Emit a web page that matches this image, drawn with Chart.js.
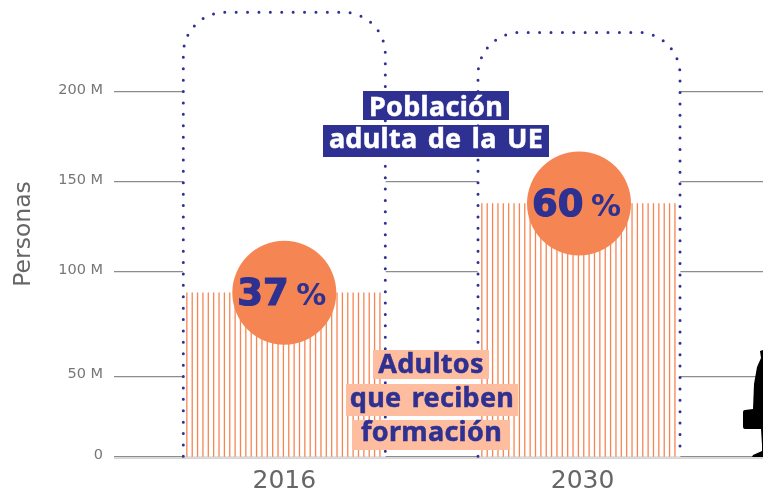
<!DOCTYPE html>
<html lang="es">
<head>
    <meta charset="UTF-8">
    <title>Adultos que reciben formación</title>
    <script src="https://cdnjs.cloudflare.com/ajax/libs/Chart.js/4.4.0/chart.umd.min.js"></script>
    <style>
        body { margin: 0; background: #fff; }
        canvas { display: block; }
    </style>
</head>
<body>
    <canvas id="chart" width="763" height="491"></canvas>

    <script>
        // Values (millions of people)
        const years = [2016, 2030];
        const adultPopulation = [243, 232];
        const adultsInTraining = [90, 138];
        const trainingShare = [37, 60];
        const tickValues = [0, 50, 100, 150, 200];
        // The source axis is not evenly spaced, this is where each tick really sits
        const tickStretch = [0, 44.1, 101.1, 150.3, 199.5];
        // The 2030 label sits slightly right of its bar in the source
        const yearTicks = [2016, 2030.17];

        const BLUE = '#2e3191';
        const ORANGE = '#f58654';
        const PEACH = '#fdbd9e';
        const GREY = '#666';

        class StretchedScale extends Chart.LinearScale {
            static id = 'stretched';
            static defaults = Chart.LinearScale.defaults;

            getPixelForValue(value) {
                for (let i = 1; i < tickValues.length; i++) {
                    if (value <= tickValues[i]) {
                        const t = (value - tickValues[i - 1]) / (tickValues[i] - tickValues[i - 1]);
                        value = tickStretch[i - 1] + t * (tickStretch[i] - tickStretch[i - 1]);
                        break;
                    }
                }
                return super.getPixelForValue(value);
            }
        }
        Chart.register(StretchedScale);

        // Vertical hatching for the orange bars, 11 lines per 59px
        function hatchPattern() {
            const c = document.createElement('canvas');
            c.width = 59;
            c.height = 4;
            const ctx = c.getContext('2d');
            ctx.fillStyle = ORANGE;
            for (let i = 0; i < 11; i++) {
                ctx.fillRect(4.34 + i * 59 / 11 - 0.5, 0, 1.3, 4);
            }
            ctx.fillRect(4.34 - 59 / 11 - 0.5, 0, 1.3, 4);
            return ctx.createPattern(c, 'repeat');
        }

        function toPoints(values) {
            return values.map((v, i) => ({ x: years[i], y: v }));
        }

        // Dotted outline around the white population bars
        const dottedOutline = {
            id: 'dottedOutline',
            afterDatasetsDraw(chart) {
                const ctx = chart.ctx;
                ctx.save();
                // pale floor line under everything
                ctx.fillStyle = '#d6d6d6';
                ctx.fillRect(chart.chartArea.left, chart.chartArea.bottom + 0.5, chart.chartArea.width, 1.5);
                ctx.strokeStyle = BLUE;
                ctx.lineWidth = 3;
                ctx.lineCap = 'round';
                ctx.setLineDash([0, 11.4]);
                chart.getDatasetMeta(2).data.forEach(bar => {
                    const left = bar.x - bar.width / 2;
                    const right = bar.x + bar.width / 2;
                    ctx.beginPath();
                    ctx.moveTo(left, bar.base);
                    ctx.arcTo(left, bar.y, right, bar.y, 42);
                    ctx.arcTo(right, bar.y, right, bar.base, 42);
                    ctx.lineTo(right, bar.base);
                    ctx.stroke();
                });
                ctx.restore();
            }
        };

        // Percentages in the circles, axis title and the boxed captions
        const annotations = {
            id: 'annotations',
            afterDraw(chart) {
                const ctx = chart.ctx;
                ctx.save();
                ctx.textBaseline = 'alphabetic';
                chart.getDatasetMeta(0).data.forEach((pt, i) => {
                    ctx.fillStyle = BLUE;
                    ctx.strokeStyle = BLUE;
                    ctx.lineWidth = 1.2;
                    ctx.textAlign = 'right';
                    ctx.font = 'bold 37px "DejaVu Sans"';
                    ctx.fillText(trainingShare[i], pt.x + 4.5, pt.y + 12);
                    ctx.strokeText(trainingShare[i], pt.x + 4.5, pt.y + 12);
                    ctx.textAlign = 'left';
                    ctx.font = 'bold 30px "DejaVu Sans"';
                    ctx.fillText('%', pt.x + 12, pt.y + 12);
                });

                ctx.save();
                ctx.translate(30, 234);
                ctx.rotate(-Math.PI / 2);
                ctx.fillStyle = GREY;
                ctx.textAlign = 'center';
                ctx.font = '23.5px "DejaVu Sans"';
                ctx.fillText('Personas', 0, 0);
                ctx.restore();

                const caption = (text, x0, x1, y0, y1, baseline, bg, fg) => {
                    ctx.fillStyle = bg;
                    ctx.fillRect(x0, y0, x1 - x0, y1 - y0);
                    ctx.fillStyle = fg;
                    ctx.strokeStyle = fg;
                    ctx.lineWidth = 0.5;
                    ctx.textAlign = 'center';
                    ctx.letterSpacing = '0.3px';
                    ctx.wordSpacing = '3px';
                    ctx.font = 'bold 27px "Noto Sans"';
                    ctx.fillText(text, (x0 + x1) / 2, baseline);
                    ctx.strokeText(text, (x0 + x1) / 2, baseline);
                };
                caption('Población', 363, 509, 91, 120, 115.7, BLUE, '#fff');
                caption('adulta de la UE', 323, 549, 125, 157, 148.3, BLUE, '#fff');
                caption('Adultos', 373, 489, 350, 379, 373.3, PEACH, BLUE);
                caption('que reciben', 346, 518, 384, 416, 406.7, PEACH, BLUE);
                caption('formación', 353, 510, 420, 450, 441, PEACH, BLUE);
                ctx.restore();
            }
        };

        // Figure walking out of frame, bottom right
        const silhouette = {
            id: 'silhouette',
            afterDatasetsDraw(chart) {
                const p = new Path2D('M763 350 L760 351 L761 358 L757 367 L754 384 L753 409 L745 410 Q743 410 743 412 L743 427 Q743 429 745 429 L761 429 L762 445 L762 451 L753 455 L752 457 L763 457 Z');
                chart.ctx.fillStyle = '#000';
                chart.ctx.fill(p);
            }
        };

        new Chart(document.getElementById('chart'), {
            type: 'bar',
            data: {
                datasets: [
                    {
                        type: 'line',
                        label: 'Porcentaje',
                        data: toPoints(adultsInTraining),
                        showLine: false,
                        pointRadius: 52,
                        pointBackgroundColor: ORANGE,
                        pointBorderWidth: 0,
                        order: 1
                    },
                    {
                        label: 'Adultos que reciben formación',
                        data: toPoints(adultsInTraining),
                        backgroundColor: hatchPattern(),
                        barThickness: 196,
                        grouped: false,
                        order: 2
                    },
                    {
                        label: 'Población adulta de la UE',
                        data: toPoints(adultPopulation),
                        backgroundColor: '#fff',
                        barThickness: 202,
                        grouped: false,
                        borderRadius: { topLeft: 42, topRight: 42 },
                        borderSkipped: false,
                        order: 3
                    }
                ]
            },
            options: {
                responsive: false,
                animation: false,
                layout: { padding: 0, autoPadding: false },
                plugins: { legend: { display: false }, tooltip: { enabled: false } },
                scales: {
                    x: {
                        type: 'linear',
                        offset: false,
                        min: 2007.91,
                        max: 2038.74,
                        afterFit: scale => {
                            scale.height = 34;
                            scale.paddingLeft = 0;
                            scale.paddingRight = 0;
                        },
                        afterBuildTicks: scale => { scale.ticks = yearTicks.map(value => ({ value })); },
                        grid: { display: false },
                        border: { display: false },
                        ticks: {
                            autoSkip: false,
                            maxRotation: 0,
                            padding: 1,
                            color: GREY,
                            font: { family: 'DejaVu Sans', size: 25 },
                            callback: value => String(Math.floor(value))
                        }
                    },
                    y: {
                        type: 'stretched',
                        min: 0,
                        max: 249.7,
                        afterFit: scale => {
                            scale.width = 114;
                            scale.paddingTop = 0;
                            scale.paddingBottom = 0;
                        },
                        afterBuildTicks: scale => { scale.ticks = tickValues.map(value => ({ value })); },
                        grid: { color: '#8c8c8c', lineWidth: 1.3, drawTicks: false },
                        border: { display: false },
                        ticks: {
                            autoSkip: false,
                            padding: 11,
                            labelOffset: -2,
                            color: '#777',
                            font: { family: 'DejaVu Sans', size: 14.5 },
                            callback: value => value === 0 ? '0' : value + ' M'
                        }
                    }
                }
            },
            plugins: [dottedOutline, silhouette, annotations]
        });
    </script>
</body>
</html>
